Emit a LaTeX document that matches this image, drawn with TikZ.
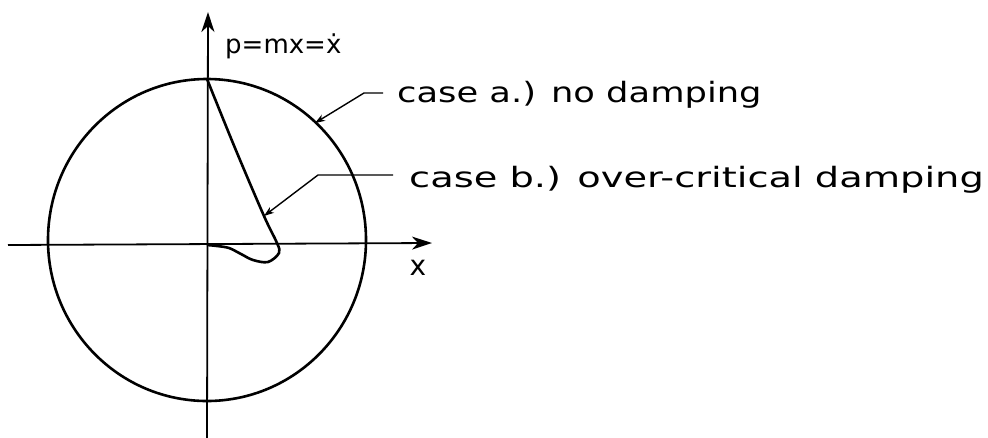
\documentclass[tikz,border=0pt]{standalone}
\usepackage{fontspec}
\setmainfont{DejaVu Sans}
\usetikzlibrary{arrows.meta}
\tikzset{
  axis/.style={line width=1.8pt, -{Stealth[length=20pt,width=13pt,inset=6pt]}},
  curve/.style={line width=2.6pt},
  pointer/.style={line width=1.4pt, -{Stealth[length=10pt,width=7pt,inset=3pt]}},
  hand/.style={font=\fontsize{28}{30}\selectfont, inner sep=0pt}
}
\begin{document}
\begin{tikzpicture}[x=1pt,y=-1pt]
\useasboundingbox (0,0) rectangle (988,437);
% axes
\coordinate (xs) at (8,245);
\coordinate (xe) at (432,243);
\coordinate (ys) at (207,440);
\coordinate (ye) at (208,12);
\draw[axis] (xs) -- (xe);
\draw[axis] (ys) -- (ye);
% circle (case a)
\draw[curve] (207,240) ellipse [x radius=159, y radius=161];
% case b curve
\coordinate (top) at (207,79);
\coordinate (orig) at (207,245);
\coordinate (tb) at (264,216);
\draw[curve] plot[smooth, tension=0.55] coordinates {(207,79) (235,148) (264,216) (277,243) (279,253) (268,262) (253,260) (241,254) (229,248) (217,246) (207,245)};
% labels
\node[hand, anchor=base west] (plab) at (225,53) {\fontsize{26}{28}\selectfont p=mx=ẋ};
\node[hand] (xlab) at (418,268) {x};
\node[hand, anchor=base west] (casea) at (397,102) {\scalebox{1.26}[1]{case a.) no damping}};
\node[hand, anchor=base west] (caseb) at (409,187) {\scalebox{1.37}[1]{case b.) over-critical damping}};
% pointers
\coordinate (ta) at (315,123);
\coordinate (ka) at (364,93);
\coordinate (kb) at (318,175);
\draw[pointer] ([xshift=-14pt]casea.west |- 0,93) -- (ka) -- (ta);
\draw[pointer] ([xshift=-16pt]caseb.west |- 0,175) -- (kb) -- (tb);
\end{tikzpicture}
\end{document}
